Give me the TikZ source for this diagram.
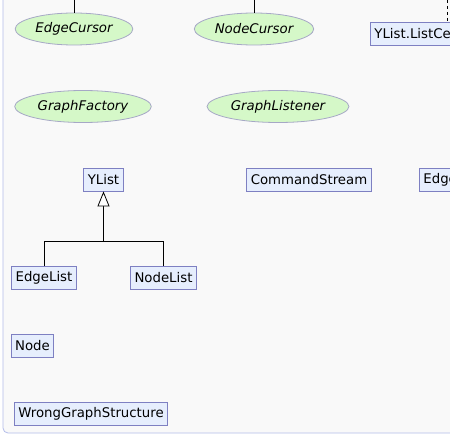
\documentclass[tikz,border=0pt]{standalone}
\usepackage{fontspec}
\setmainfont{DejaVu Sans}
\usetikzlibrary{arrows.meta,positioning,shapes.geometric}

\definecolor{bgcol}{HTML}{F9F9F9}
\definecolor{framecol}{HTML}{B4BDEA}
\definecolor{clsfill}{HTML}{E6EEFD}
\definecolor{clsline}{HTML}{7E80C2}
\definecolor{iffill}{HTML}{D5F8C8}
\definecolor{ifline}{HTML}{A6A8C6}

\begin{document}
\begin{tikzpicture}[x=1pt, y=-1pt,
		cls/.style={rectangle, draw=clsline, fill=clsfill, thick, minimum height=23pt, inner xsep=4pt, inner ysep=0pt, font=\fontsize{13.3}{15}\selectfont},
		iface/.style={ellipse, draw=ifline, fill=iffill, thick, minimum height=32pt, inner xsep=3pt, inner ysep=0pt, font=\fontsize{13.3}{15}\selectfont\itshape},
		ed/.style={thick},
		dep/.style={thick, dashed},
		inh/.style={thick, -{Triangle[open, fill=white, length=15pt, width=12pt]}}
		]
		\useasboundingbox (0,0) rectangle (450,436);
		\fill[white] (0,0) rectangle (450,436);
		\clip (0,0) rectangle (450,436);
		\fill[bgcol, rounded corners=5pt] (3,-10) rectangle (470,433);
		\draw[framecol, thick, rounded corners=5pt] (3,-10) -- (3,433) -- (470,433);
		% interfaces
		\node[iface] (edgecur) at (74,29) {EdgeCursor};
		\node[iface] (nodecur) at (254,29) {NodeCursor};
		\node[iface] (gfactory) at (83,106.5) {GraphFactory};
		\node[iface] (glistener) at (278,106.5) {GraphListener};
		% classes
		\node[cls, anchor=west] (listcell) at (370,33.5) {YList.ListCell};
		\node[cls] (ylist) at (103.5,179.5) {YList};
		\node[cls] (cmdstream) at (309,179.5) {CommandStream};
		\node[cls, anchor=west] (edge) at (419,179.5) {Edge};
		\node[cls] (edgelist) at (44,277.5) {EdgeList};
		\node[cls] (nodelist) at (163.5,277.5) {NodeList};
		\node[cls] (node) at (32.5,345.5) {Node};
		\node[cls] (wrong) at (91,413.5) {WrongGraphStructure};
		% links leaving the visible part
		\coordinate (t1) at (74,0);
		\coordinate (t2) at (254,0);
		\coordinate (t3) at (447,0);
		\draw[ed] (t1) -- (edgecur);
		\draw[ed] (t2) -- (nodecur);
		\draw[dep] (t3) -- (t3 |- listcell.north);
		% inheritance
		\coordinate (j) at (103.5,241);
		\draw[ed] (edgelist) |- (j);
		\draw[ed] (nodelist) |- (j);
		\draw[inh] (j) -- (ylist);
	\end{tikzpicture}
\end{document}
